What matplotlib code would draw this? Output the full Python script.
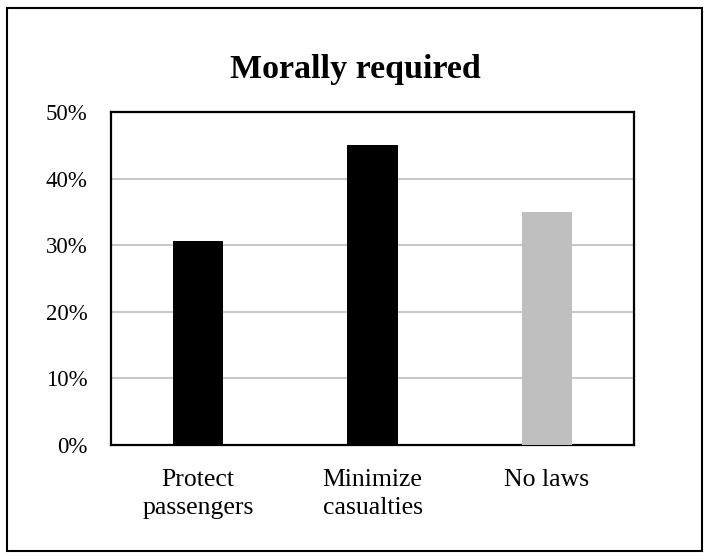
import matplotlib
matplotlib.use("Agg")
import matplotlib.pyplot as plt
from matplotlib.patches import Rectangle
from matplotlib.ticker import FuncFormatter

categories = ["Protect\npassengers", "Minimize\ncasualties", "No laws"]
values = [30.6, 45.0, 35.0]
colors = ["#000000", "#000000", "#bfbfbf"]
yticks = [0, 10, 20, 30, 40, 50]

plt.rcParams['font.family'] = ['Liberation Serif', 'DejaVu Serif']

fig = plt.figure(figsize=(7.1, 5.6), dpi=100)
ax = fig.add_axes([111/710, 1-445/560, (634-111)/710, (445-112)/560])

x = list(range(len(categories)))
ax.bar(x, values, width=0.287, color=colors, zorder=3)
ax.set_xlim(-0.5, 2.5)
ax.set_ylim(0, 50)
ax.set_yticks(yticks)
ax.yaxis.set_major_formatter(FuncFormatter(lambda v, p: f"{v:.0f}%"))
ax.set_xticks(x)
ax.set_xticklabels(categories, fontsize=18.5, linespacing=1.35)
ax.tick_params(axis='y', length=0, pad=17, labelsize=16.5)
ax.tick_params(axis='x', length=0, pad=17)
ax.grid(axis='y', color='#c8c8c8', linewidth=1.5, zorder=0)
for s in ax.spines.values():
    s.set_linewidth(1.6)
    s.set_color('black')

fig.text(0.5, 1-78/560, "Morally required", ha='center', va='baseline',
         fontsize=24.5, fontweight='bold')

fig.patches.append(Rectangle((7/710, 1-551/560), (702-7)/710, (551-8)/560,
                             transform=fig.transFigure, fill=False,
                             edgecolor='black', linewidth=1.5))

fig.savefig("out.png", dpi=100)
